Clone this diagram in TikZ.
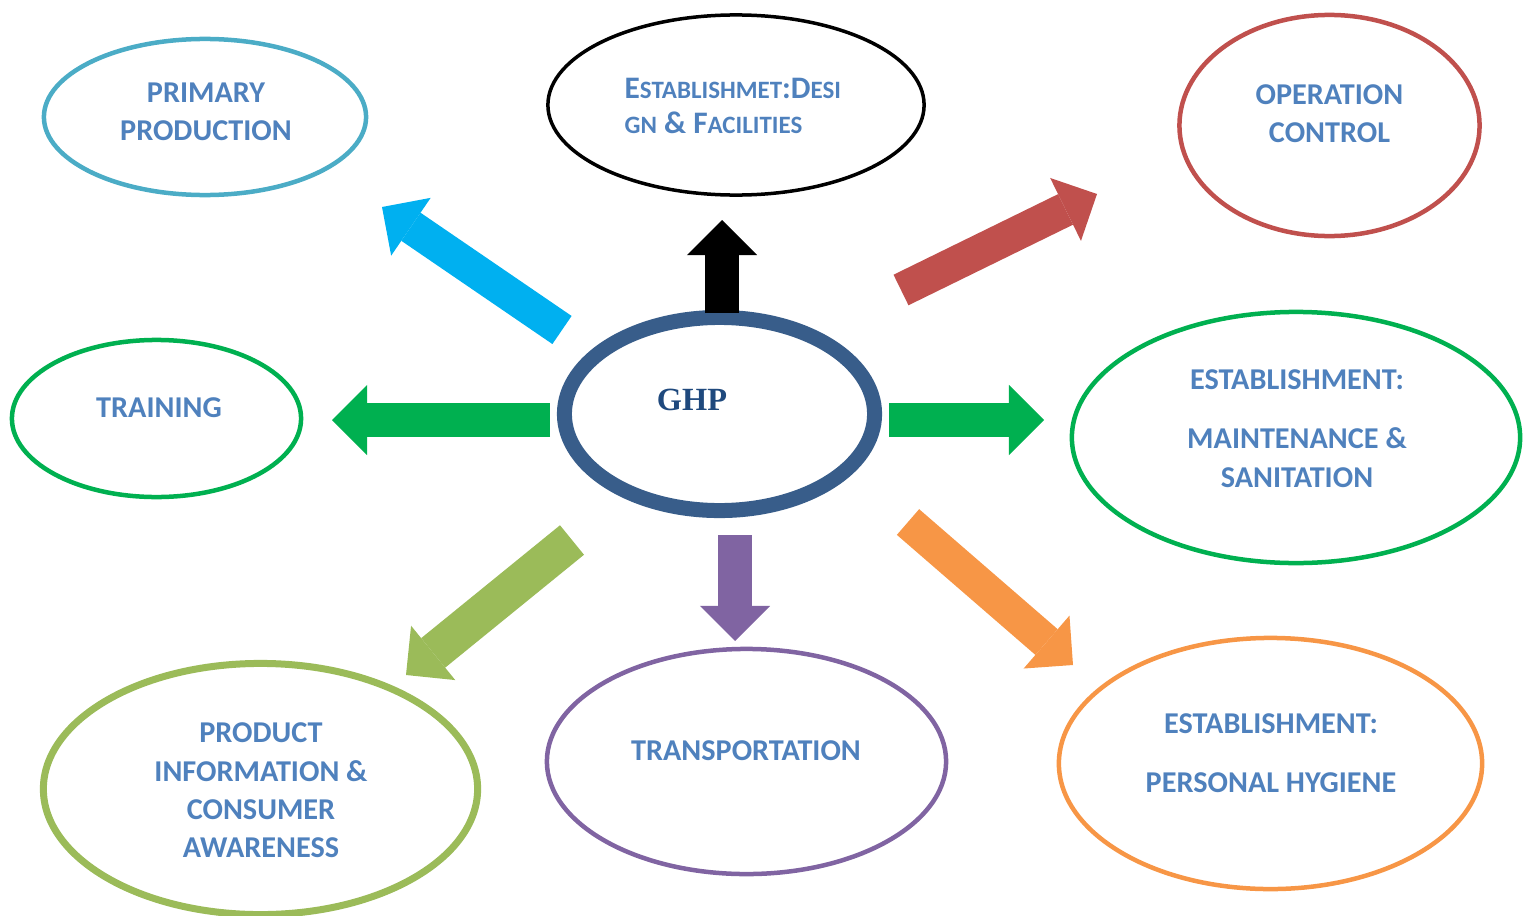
\documentclass[tikz,border=0pt]{standalone}
\usepackage{fontspec}
\newfontfamily\bodyfont{Carlito}
\newfontfamily\ghpfont{Liberation Serif}
\definecolor{txtblue}{RGB}{79,129,189}
\definecolor{ghpblue}{RGB}{31,73,125}
\definecolor{ringblue}{RGB}{56,93,138}
\definecolor{primcol}{RGB}{75,172,198}
\definecolor{opred}{RGB}{192,80,77}
\definecolor{trgreen}{RGB}{0,176,80}
\definecolor{olive}{RGB}{155,187,89}
\definecolor{transpurple}{RGB}{128,100,162}
\definecolor{hygorange}{RGB}{247,150,70}
\definecolor{arrowcyan}{RGB}{0,176,240}
\usetikzlibrary{shapes.geometric,arrows.meta}

% faked small capitals
\newcommand{\smallcap}[1]{{\fontsize{7.1}{10.2}\selectfont #1}}

\begin{document}
\begin{tikzpicture}[x=0.01cm, y=-0.01cm,
    oval/.style={ellipse, draw, line width=0.045cm, inner sep=0pt},
    lbl/.style={font=\bodyfont\bfseries\fontsize{8.6}{10.9}\selectfont,
                text=txtblue, align=center, inner sep=0pt},
    blockarrow/.style={line width=0.34cm,
                -{Triangle[width=0.7cm, length=0.35cm, line width=0pt]}}]

\useasboundingbox (0,0) rectangle (1524,915);

% Ellipses
\node[oval, draw=primcol, minimum width=3.22cm, minimum height=1.56cm] (prim) at (205,117) {};
\node[oval, draw=black, line width=0.035cm, minimum width=3.76cm, minimum height=1.80cm] (design) at (736,105) {};
\node[oval, draw=opred, minimum width=3.00cm, minimum height=2.21cm] (oper) at (1329.5,125.5) {};
\node[oval, draw=trgreen, minimum width=2.89cm, minimum height=1.57cm] (train) at (156.5,418.5) {};
\node[oval, draw=ringblue, line width=0.15cm, minimum width=3.10cm, minimum height=1.93cm] (ghp) at (719.5,414) {};
\node[oval, draw=trgreen, minimum width=4.48cm, minimum height=2.51cm] (maint) at (1296,437.5) {};
\node[oval, draw=olive, line width=0.07cm, minimum width=4.34cm, minimum height=2.51cm] (prod) at (260.5,789) {};
\node[oval, draw=transpurple, minimum width=3.99cm, minimum height=2.25cm] (trans) at (746.5,761.5) {};
\node[oval, draw=hygorange, minimum width=4.23cm, minimum height=2.51cm] (hyg) at (1270.5,763.5) {};

% Labels
\node[lbl] (prim-txt) at (206,111.5) {PRIMARY\\PRODUCTION};
\node[lbl, align=left, anchor=west, font=\bodyfont\bfseries\fontsize{8.9}{10.2}\selectfont]
    (design-txt) at (624,106) {E\smallcap{STABLISHMET}:D\smallcap{ESI}\\\smallcap{GN} \& F\smallcap{ACILITIES}};
\node[lbl] (oper-txt) at (1329.5,114) {OPERATION\\CONTROL};
\node[lbl] (train-txt) at (159,408) {TRAINING};
\node[font=\ghpfont\bfseries\fontsize{9.2}{11}\selectfont, text=ghpblue, inner sep=0pt] (ghp-txt) at (692,400) {GHP};
\node[lbl] (maint-txt) at (1297,428.5) {ESTABLISHMENT:\\[0.21cm]MAINTENANCE \&\\SANITATION};
\node[lbl] (prod-txt) at (261,790.5) {PRODUCT\\INFORMATION \&\\CONSUMER\\AWARENESS};
\node[lbl] (trans-txt) at (746,751) {TRANSPORTATION};
\node[lbl] (hyg-txt) at (1271,753.5) {ESTABLISHMENT:\\[0.21cm]PERSONAL HYGIENE};

% Arrow ends
\coordinate (up-s) at (722,313);   \coordinate (up-e) at (722,220);
\coordinate (nw-s) at (562,330);   \coordinate (nw-e) at (382,207);
\coordinate (ne-s) at (901,290);   \coordinate (ne-e) at (1097,194);
\coordinate (w-s) at (550,420);    \coordinate (w-e) at (332,420);
\coordinate (e-s) at (889,420);    \coordinate (e-e) at (1044,420);
\coordinate (sw-s) at (572,540);   \coordinate (sw-e) at (406,675);
\coordinate (dn-s) at (735,535);   \coordinate (dn-e) at (735,641);
\coordinate (se-s) at (908,522);   \coordinate (se-e) at (1073,665);

% Arrows
\draw[blockarrow, black] (up-s) -- (up-e);
\draw[blockarrow, arrowcyan] (nw-s) -- (nw-e);
\draw[blockarrow, opred] (ne-s) -- (ne-e);
\draw[blockarrow, trgreen] (w-s) -- (w-e);
\draw[blockarrow, trgreen] (e-s) -- (e-e);
\draw[blockarrow, olive, line width=0.38cm] (sw-s) -- (sw-e);
\draw[blockarrow, transpurple] (dn-s) -- (dn-e);
\draw[blockarrow, hygorange] (se-s) -- (se-e);
\end{tikzpicture}
\end{document}
